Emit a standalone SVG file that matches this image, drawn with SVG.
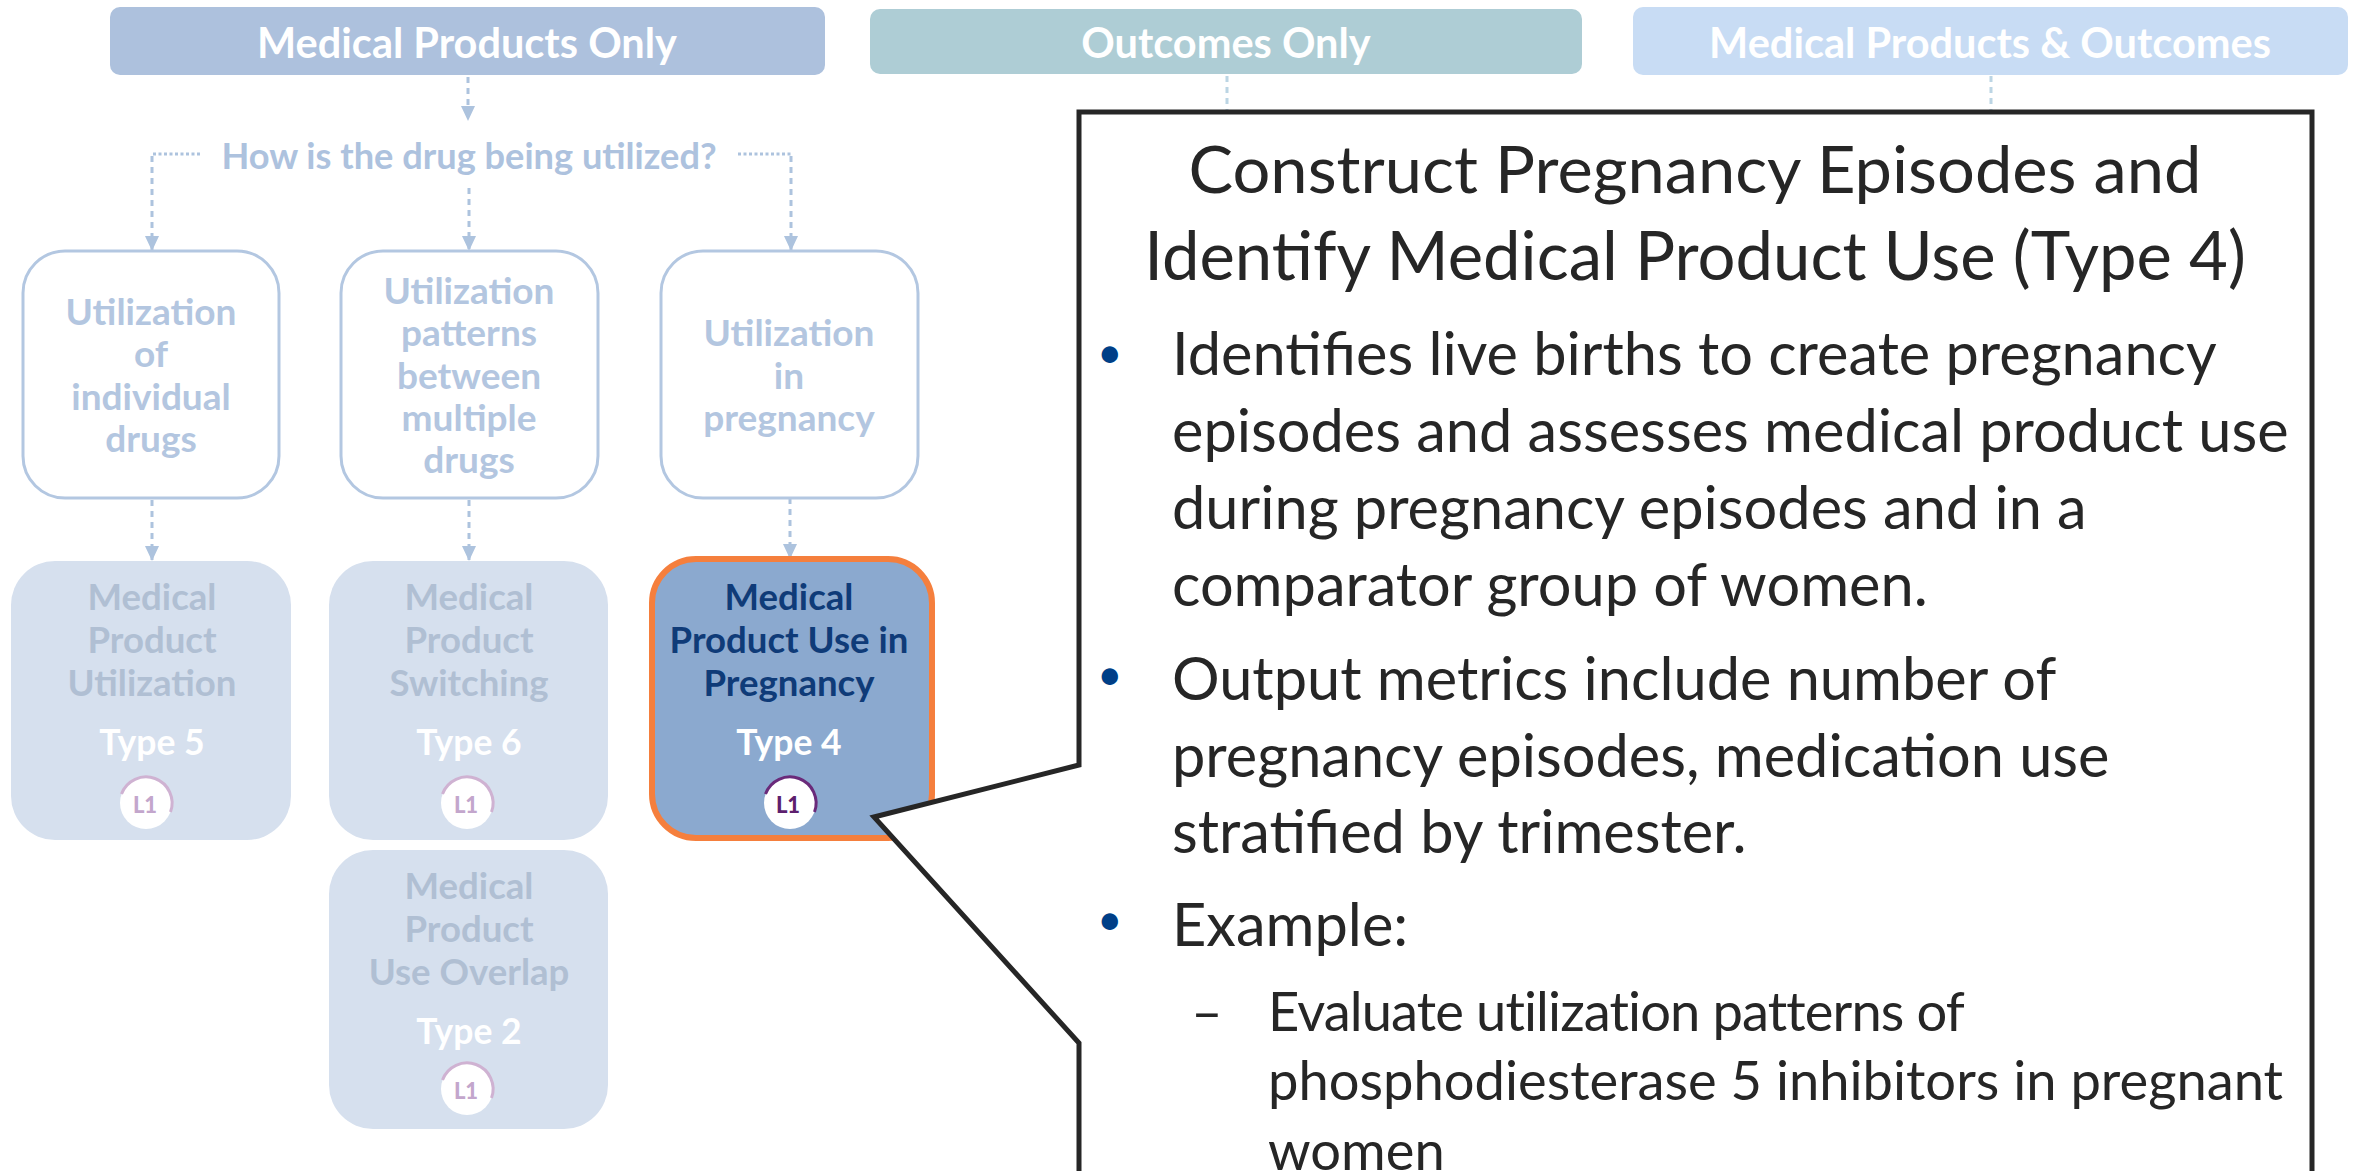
<svg xmlns="http://www.w3.org/2000/svg" width="2361" height="1171" viewBox="0 0 2361 1171">
<style>
text{font-family:Lato,"Liberation Sans",sans-serif;text-anchor:middle}
.h{font-size:41.5px;font-weight:700;fill:#fff}
.q{font-size:36.2px;font-weight:700;fill:#adc2de}
.u{font-size:37px;font-weight:700;fill:#b3c6e0}
.o{fill:#fff;stroke:#b3c7e1;stroke-width:3}
.f{fill:#d6e0ee}
.m{font-size:36.6px;font-weight:700;fill:#b0bfd3}
.t{font-size:35.5px;font-weight:700;fill:#fff}
.b{fill:#fff}
.arc{fill:none;stroke:#cfb2d2;stroke-width:3}
.l{font-size:22px;font-weight:900;fill:#c3a6cc}
.c{fill:none;stroke:#adc3de;stroke-width:3;stroke-dasharray:6 5}
.dot{fill:none;stroke:#adc3de;stroke-width:3;stroke-dasharray:3 2.5}
.c2{fill:none;stroke:#bcd5e4;stroke-width:3;stroke-dasharray:6 5}
.p{font-size:59.5px;fill:#262626;text-anchor:start}
.s{font-size:54.3px;fill:#262626;text-anchor:start}
.d{font-size:44px;fill:#003f87;text-anchor:start}
</style>
<defs><marker id="a" markerUnits="userSpaceOnUse" markerWidth="16" markerHeight="16" refX="14" refY="7" orient="auto"><path d="M0 0L15 7L0 14Z" fill="#adc3de"/></marker></defs>
<g id="connectors">
<path class="c" d="M468 77V120" marker-end="url(#a)"/>
<path class="dot" d="M200 154H152"/><path class="c" d="M152 156V250" marker-end="url(#a)"/>
<path class="c" d="M469 188V250" marker-end="url(#a)"/>
<path class="dot" d="M738 154H791"/><path class="c" d="M791 156V250" marker-end="url(#a)"/>
<path class="c" d="M152 500V560" marker-end="url(#a)"/>
<path class="c" d="M469 500V560" marker-end="url(#a)"/>
<path class="c" d="M790 498V558" marker-end="url(#a)"/>
<path class="c2" d="M1227 76V112"/>
<path class="c2" d="M1991 76V112"/>
</g>
<g id="n1"><rect x="110" y="7" width="715" height="68" rx="10" fill="#adc1dd"/><text class="h" x="467" y="58">Medical Products Only</text></g>
<g id="n2"><rect x="870" y="9" width="712" height="65" rx="10" fill="#aecdd5"/><text class="h" x="1226" y="58">Outcomes Only</text></g>
<g id="n3"><rect x="1633" y="7" width="715" height="68" rx="10" fill="#c8dcf4"/><text class="h" x="1990" y="58">Medical Products &amp; Outcomes</text></g>
<g id="q"><text class="q" x="469" y="169">How is the drug being utilized?</text></g>
<g id="u1"><rect class="o" x="23" y="251" width="256" height="247" rx="42"/><text class="u" x="151" y="325">Utilization</text><text class="u" x="151" y="367">of</text><text class="u" x="151" y="410">individual</text><text class="u" x="151" y="452">drugs</text></g>
<g id="u2"><rect class="o" x="341" y="251" width="257" height="247" rx="42"/><text class="u" x="469" y="304">Utilization</text><text class="u" x="469" y="346">patterns</text><text class="u" x="469" y="389">between</text><text class="u" x="469" y="431">multiple</text><text class="u" x="469" y="473">drugs</text></g>
<g id="u3"><rect class="o" x="661" y="251" width="257" height="247" rx="42"/><text class="u" x="789" y="346">Utilization</text><text class="u" x="789" y="389">in</text><text class="u" x="789" y="431">pregnancy</text></g>
<g id="t5"><rect class="f" x="11" y="561" width="280" height="279" rx="44"/><text class="m" x="152" y="610">Medical</text><text class="m" x="152" y="653">Product</text><text class="m" x="152" y="696">Utilization</text><text class="t" x="152" y="755">Type 5</text><circle class="b" cx="146" cy="803" r="26"/><path class="arc" d="M121.500 794A26 26 0 0 1 170.500 812"/><text class="l" x="145" y="813">L1</text></g>
<g id="t6"><rect class="f" x="329" y="561" width="279" height="279" rx="44"/><text class="m" x="469" y="610">Medical</text><text class="m" x="469" y="653">Product</text><text class="m" x="469" y="696">Switching</text><text class="t" x="469" y="755">Type 6</text><circle class="b" cx="467" cy="803" r="26"/><path class="arc" d="M442.500 794A26 26 0 0 1 491.500 812"/><text class="l" x="466" y="813">L1</text></g>
<g id="t2"><rect class="f" x="329" y="850" width="279" height="279" rx="44"/><text class="m" x="469" y="899">Medical</text><text class="m" x="469" y="942">Product</text><text class="m" x="469" y="985">Use Overlap</text><text class="t" x="469" y="1044">Type 2</text><circle class="b" cx="467" cy="1089" r="26"/><path class="arc" d="M442.500 1080A26 26 0 0 1 491.500 1098"/><text class="l" x="466" y="1099">L1</text></g>
<g id="t4"><rect x="652" y="559" width="280" height="279" rx="44" fill="#8ba9cf" stroke="#f57f3d" stroke-width="6"/><text class="m" style="fill:#0f3b78" x="789" y="610">Medical</text><text class="m" style="fill:#0f3b78" x="789" y="653">Product Use in</text><text class="m" style="fill:#0f3b78" x="789" y="696">Pregnancy</text><text class="t" x="789" y="755">Type 4</text><circle class="b" cx="790" cy="803" r="26"/><path class="arc" style="stroke:#6a2a7a" d="M765.500 794A26 26 0 0 1 814.500 812"/><text class="l" style="fill:#5d1f6e" x="788" y="813">L1</text></g>
<g id="callout"><path d="M1079 1180V1043L874 817L1079 765V112H2312V1180" fill="#fff" stroke="#262626" stroke-width="5"/>
<text style="font-size:66.8px;fill:#262626" x="1695" y="193">Construct Pregnancy Episodes and</text>
<text style="font-size:67px;fill:#262626" x="1695" y="280">Identify Medical Product Use (Type 4)</text>
<text class="d" x="1097" y="368">•</text><text class="p" x="1172" y="375">Identifies live births to create pregnancy</text>
<text class="p" x="1172" y="452">episodes and assesses medical product use</text>
<text class="p" x="1172" y="529">during pregnancy episodes and in a</text>
<text class="p" x="1172" y="606">comparator group of women.</text>
<text class="d" x="1097" y="690">•</text><text class="p" x="1172" y="700">Output metrics include number of</text>
<text class="p" x="1172" y="777">pregnancy episodes, medication use</text>
<text class="p" x="1172" y="853">stratified by trimester.</text>
<text class="d" x="1097" y="935">•</text><text class="p" x="1172" y="946">Example:</text>
<text style="font-size:54px;fill:#262626" x="1207" y="1031">–</text>
<text class="s" style="letter-spacing:-.9px" x="1268" y="1031">Evaluate utilization patterns of</text>
<text class="s" x="1268" y="1100">phosphodiesterase 5 inhibitors in pregnant</text>
<text class="s" x="1268" y="1170">women</text>
</g>
</svg>
